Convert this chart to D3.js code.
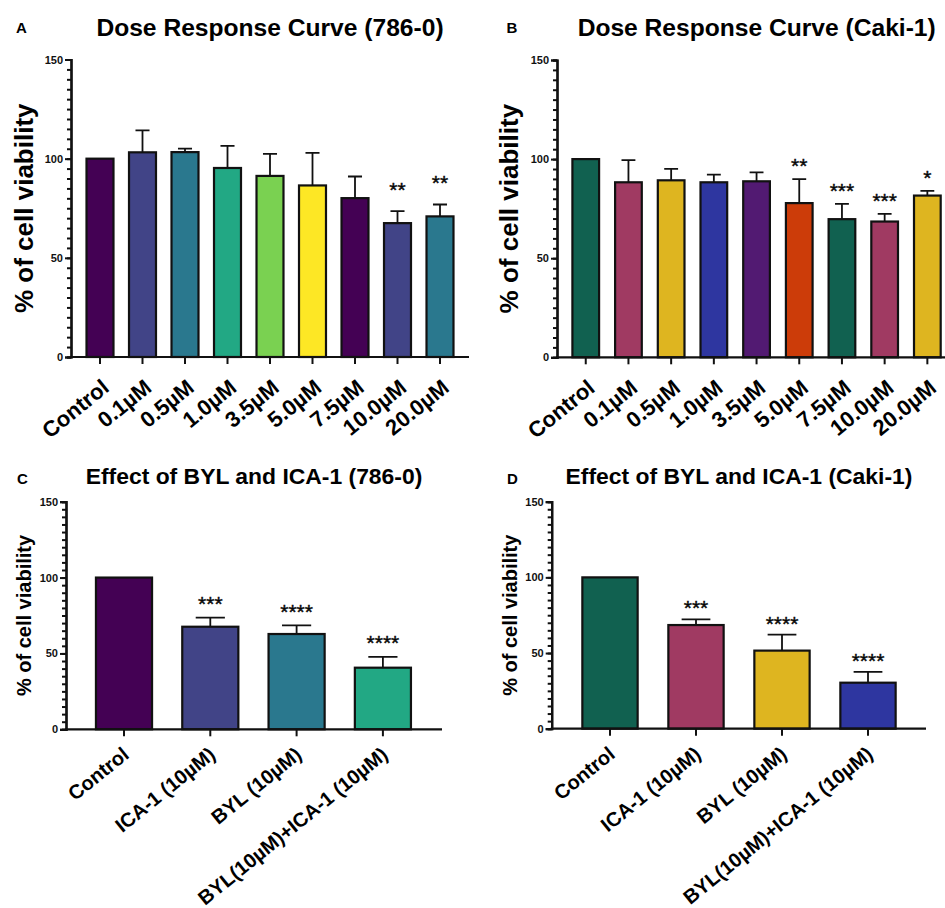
<!DOCTYPE html>
<html>
<head>
<meta charset="utf-8">
<script src="https://cdn.jsdelivr.net/npm/d3@7"></script>
<style>
  body { margin: 0; background: #fff; }
  text { font-family: "Liberation Sans", Arial, sans-serif; }
</style>
</head>
<body>
<script>
// ---- data ----
const doseLabels = ["Control", "0.1µM", "0.5µM", "1.0µM", "3.5µM", "5.0µM", "7.5µM", "10.0µM", "20.0µM"];
const dose786 = [100, 103.2, 103.3, 95.3, 91.3, 86.5, 80.1, 67.5, 70.9];
const doseErr786 = [0, 11.1, 1.8, 11.1, 11.1, 16.4, 10.9, 6.1, 6.0];
const doseStars786 = ["", "", "", "", "", "", "", "**", "**"];
const doseCaki = [100, 88.3, 89.3, 88.3, 88.8, 77.8, 69.7, 68.5, 81.6];
const doseErrCaki = [0, 11.2, 5.8, 3.9, 4.5, 12.1, 7.7, 3.9, 2.4];
const doseStarsCaki = ["", "", "", "", "", "**", "***", "***", "*"];

const comboLabels = ["Control", "ICA-1 (10µM)", "BYL (10µM)", "BYL(10µM)+ICA-1 (10µM)"];
const combo786 = [100, 67.6, 62.8, 40.6];
const comboErr786 = [0, 6.0, 5.7, 7.1];
const comboCaki = [100, 68.5, 51.6, 30.4];
const comboErrCaki = [0, 3.8, 10.5, 7.1];
const comboStars = ["", "***", "****", "****"];

const viridisColors = ["#440154", "#414487", "#2a788e", "#22a884", "#7ad151", "#fde725", "#440154", "#414487", "#2a788e"];
const cakiColors = ["#116150", "#a03a62", "#deb520", "#2e36a0", "#521a72", "#cc3c09", "#116150", "#a03a62", "#deb520"];

const yTickValues = [0, 50, 100, 150];
const labelAngle = -39;

const svg = d3.select("body").append("svg")
  .attr("width", 945).attr("height", 908);

function drawPanel(p) {
  const g = svg.append("g");
  const n = p.labels.length;
  const x = d3.scaleBand()
    .domain(p.labels)
    .range([p.bandStart, p.bandStart + n * p.step])
    .paddingInner(p.pad).paddingOuter(p.pad / 2);
  const y = d3.scaleLinear().domain([0, 150]).range([p.yZero, p.yTop]);
  const rows = p.labels.map((l, i) => ({ label: l, v: p.values[i], e: p.errors[i], s: p.stars[i], c: p.colors[i] }));

  // bars
  g.selectAll("rect.bar").data(rows).enter().append("rect")
    .attr("class", "bar")
    .attr("x", d => x(d.label))
    .attr("width", x.bandwidth())
    .attr("y", d => y(d.v))
    .attr("height", d => y(0) - y(d.v))
    .attr("fill", d => d.c)
    .attr("stroke", "#111").attr("stroke-width", 2.2);

  // error bars (upper only)
  const withErr = rows.filter(d => d.e > 0);
  const cap = x.bandwidth() * 0.26;
  g.selectAll("path.err").data(withErr).enter().append("path")
    .attr("class", "err")
    .attr("d", d => {
      const cx = x(d.label) + x.bandwidth() / 2;
      return "M" + cx + "," + y(d.v) + "V" + y(d.v + d.e) + "M" + (cx - cap) + "," + y(d.v + d.e) + "H" + (cx + cap);
    })
    .attr("fill", "none").attr("stroke", "#111").attr("stroke-width", 1.8);

  // significance stars
  g.selectAll("text.star").data(rows.filter(d => d.s)).enter().append("text")
    .attr("class", "star")
    .attr("x", d => x(d.label) + x.bandwidth() / 2)
    .attr("y", d => y(d.v + d.e) - p.starOffset + 11)
    .attr("text-anchor", "middle")
    .attr("font-size", 21)
    .attr("stroke", "#111").attr("stroke-width", 0.4)
    .text(d => d.s);

  // y axis: major + minor ticks
  const yMinor = g.append("g").attr("transform", "translate(" + p.x0 + ",0)")
    .call(d3.axisLeft(y).tickValues(d3.range(0, 151, 5)).tickSize(4).tickFormat(""));
  const yMajor = g.append("g").attr("transform", "translate(" + p.x0 + ",0)")
    .call(d3.axisLeft(y).tickValues(yTickValues).tickSize(6).tickPadding(2));
  [yMinor, yMajor].forEach(a => {
    a.selectAll("line").attr("stroke", "#111").attr("stroke-width", 2);
    a.select(".domain").attr("stroke", "#111").attr("stroke-width", 2.2);
  });
  yMajor.selectAll("text")
    .attr("font-size", 11).attr("font-weight", "bold").attr("fill", "#111")
    .attr("font-family", "Liberation Sans, Arial, sans-serif");

  // x axis
  const xAxis = g.append("g").attr("transform", "translate(0," + p.yZero + ")")
    .call(d3.axisBottom(x).tickSize(7).tickFormat(""));
  xAxis.select(".domain").remove();
  xAxis.selectAll("line").attr("stroke", "#111").attr("stroke-width", 2);
  g.append("line")
    .attr("x1", p.x0 - 1).attr("x2", p.axisEnd)
    .attr("y1", p.yZero).attr("y2", p.yZero)
    .attr("stroke", "#111").attr("stroke-width", 2.2);

  g.selectAll("text.xlab").data(rows).enter().append("text")
    .attr("class", "xlab")
    .attr("transform", d => "translate(" + (x(d.label) + x.bandwidth() / 2 + p.xlabDx) + "," + (p.yZero + p.xlabDy) + ") rotate(" + labelAngle + ")")
    .attr("text-anchor", "end")
    .attr("font-size", p.xlabSize).attr("font-weight", "bold")
    .text(d => d.label);

  // y label
  g.append("text")
    .attr("transform", "translate(" + p.ylabX + "," + ((p.yTop + p.yZero) / 2) + ") rotate(-90)")
    .attr("text-anchor", "middle")
    .attr("font-size", p.ylabSize).attr("font-weight", "bold")
    .text("% of cell viability");

  // title + panel letter
  g.append("text")
    .attr("x", p.titleX).attr("y", p.titleY)
    .attr("text-anchor", "middle")
    .attr("font-size", p.titleSize).attr("font-weight", "bold")
    .text(p.title);
  g.append("text")
    .attr("x", p.letterX).attr("y", p.letterY)
    .attr("font-size", 15).attr("font-weight", "bold")
    .text(p.letter);
}

drawPanel({
  letter: "A", title: "Dose Response Curve (786-0)",
  labels: doseLabels, values: dose786, errors: doseErr786, stars: doseStars786, colors: viridisColors,
  x0: 71, yTop: 59.5, yZero: 357, bandStart: 78.75, step: 42.5, pad: 0.365, axisEnd: 469,
  titleX: 270, titleY: 36, titleSize: 24.6, letterX: 16, letterY: 33,
  ylabX: 33, ylabSize: 26, xlabSize: 22, xlabDx: 10.5, xlabDy: 33, starOffset: 25
});
drawPanel({
  letter: "B", title: "Dose Response Curve (Caki-1)",
  labels: doseLabels, values: doseCaki, errors: doseErrCaki, stars: doseStarsCaki, colors: cakiColors,
  x0: 557, yTop: 60, yZero: 357.3, bandStart: 564.4, step: 42.7, pad: 0.375, axisEnd: 945,
  titleX: 756.7, titleY: 36, titleSize: 24.6, letterX: 506.5, letterY: 33,
  ylabX: 518, ylabSize: 26, xlabSize: 22, xlabDx: 10.5, xlabDy: 33, starOffset: 17
});
drawPanel({
  letter: "C", title: "Effect of BYL and ICA-1 (786-0)",
  labels: comboLabels, values: combo786, errors: comboErr786, stars: comboStars, colors: viridisColors,
  x0: 66, yTop: 501.7, yZero: 729.3, bandStart: 80.85, step: 86.3, pad: 0.35, axisEnd: 442,
  titleX: 254, titleY: 484, titleSize: 22.9, letterX: 17, letterY: 484,
  ylabX: 31, ylabSize: 20, xlabSize: 20, xlabDx: 6.3, xlabDy: 27.5, starOffset: 17.5
});
drawPanel({
  letter: "D", title: "Effect of BYL and ICA-1 (Caki-1)",
  labels: comboLabels, values: comboCaki, errors: comboErrCaki, stars: comboStars, colors: cakiColors,
  x0: 551.7, yTop: 501.7, yZero: 728.7, bandStart: 567, step: 86, pad: 0.357, axisEnd: 926,
  titleX: 739, titleY: 484, titleSize: 22.9, letterX: 507, letterY: 484,
  ylabX: 516.7, ylabSize: 20, xlabSize: 20, xlabDx: 6.3, xlabDy: 27.5, starOffset: 15
});
</script>
</body>
</html>
